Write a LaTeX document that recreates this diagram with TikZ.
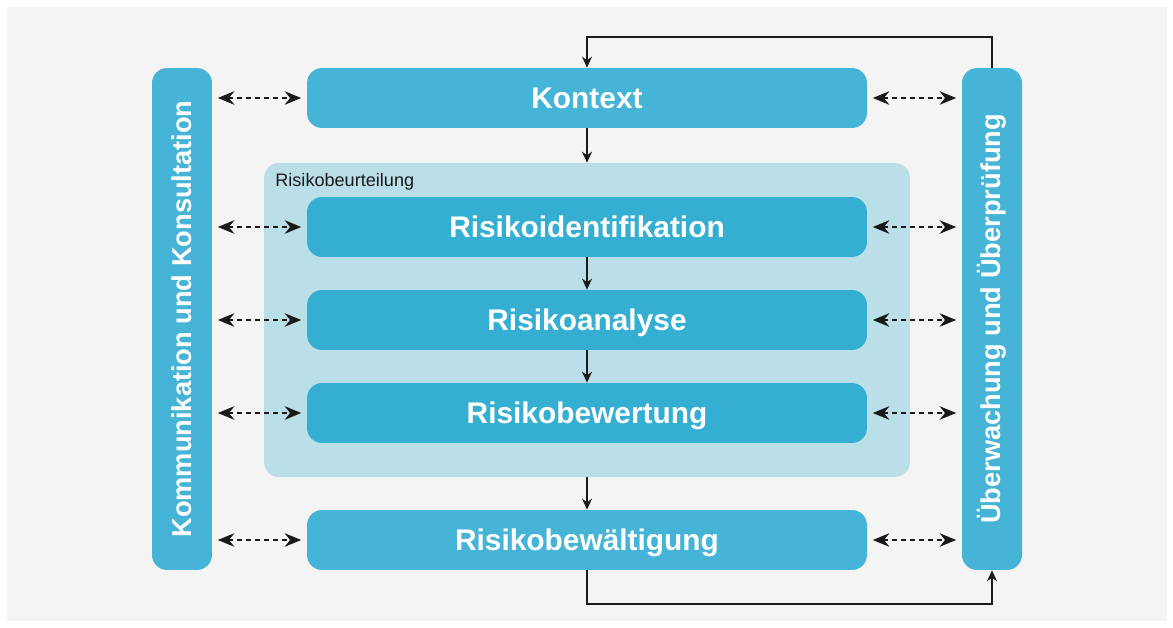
\documentclass[tikz,border=0pt]{standalone}
\usepackage{fontspec}
\setmainfont{Liberation Sans}
\usetikzlibrary{arrows.meta}
\definecolor{bgcol}{HTML}{F4F4F4}
\definecolor{boxcol}{HTML}{46B4D6}
\definecolor{innercol}{HTML}{34AFD1}
\definecolor{rbcol}{HTML}{BBDFE8}
\definecolor{arcol}{HTML}{1A1A1A}
\begin{document}
\begin{tikzpicture}[x=0.02cm,y=-0.02cm,
    bar/.style={fill=boxcol,rounded corners=0.3cm,minimum width=1.2cm,minimum height=10.04cm,inner sep=0pt,text=white,font=\fontsize{15.5}{18}\selectfont\bfseries},
    box/.style={fill=boxcol,rounded corners=0.3cm,minimum width=11.2cm,minimum height=1.2cm,inner sep=0pt,text height=12.2pt,text depth=0pt,text=white,font=\fontsize{17}{20}\selectfont\bfseries},
    flow/.style={draw=arcol,line width=0.9pt,-{Stealth[length=0.22cm,width=0.2cm]}},
    link/.style={draw=arcol,line width=1.1pt,dash pattern=on 0.1cm off 0.08cm,{Stealth[length=0.33cm,width=0.27cm]}-{Stealth[length=0.33cm,width=0.27cm]},shorten <=0.11cm,shorten >=0.11cm}]
    \useasboundingbox (0,0) rectangle (1173,628);
    \fill[bgcol] (7,7) rectangle (1167,621);
    \node[fill=rbcol,rounded corners=0.3cm,minimum width=12.92cm,minimum height=6.28cm] (rb) at (587,320) {};
    \node[anchor=base west,inner sep=0pt,text=arcol,font=\fontsize{10.3}{12}\selectfont] (rbl) at (275,187) {Risikobeurteilung};
    \node[box] (kontext) at (587,98) {Kontext};
    \node[box,fill=innercol] (ident) at (587,227) {Risikoidentifikation};
    \node[box,fill=innercol] (analyse) at (587,320) {Risikoanalyse};
    \node[box,fill=innercol] (bewertung) at (587,413) {Risikobewertung};
    \node[box] (bewaelt) at (587,540) {Risikobewältigung};
    \node[bar] (kom) at (182,319) {\rotatebox{90}{Kommunikation und Konsultation}};
    \node[bar] (ueb) at (992,319) {\rotatebox{90}{Überwachung und Überprüfung}};
    \coordinate (top) at (587,37);
    \coordinate (bot) at (587,604);
    \draw[flow] (kontext.south) -- (rb.north);
    \draw[flow] (ident.south) -- (analyse.north);
    \draw[flow] (analyse.south) -- (bewertung.north);
    \draw[flow] (rb.south) -- (bewaelt.north);
    \draw[flow] (ueb.north) |- (top) -- (kontext.north);
    \draw[flow] (bewaelt.south) -- (bot) -| (ueb.south);
    \foreach \n in {kontext,ident,analyse,bewertung,bewaelt}
    {
      \draw[link] (kom.east |- \n.west) -- (\n.west);
      \draw[link] (\n.east) -- (ueb.west |- \n.east);
    }
  \end{tikzpicture}
\end{document}
